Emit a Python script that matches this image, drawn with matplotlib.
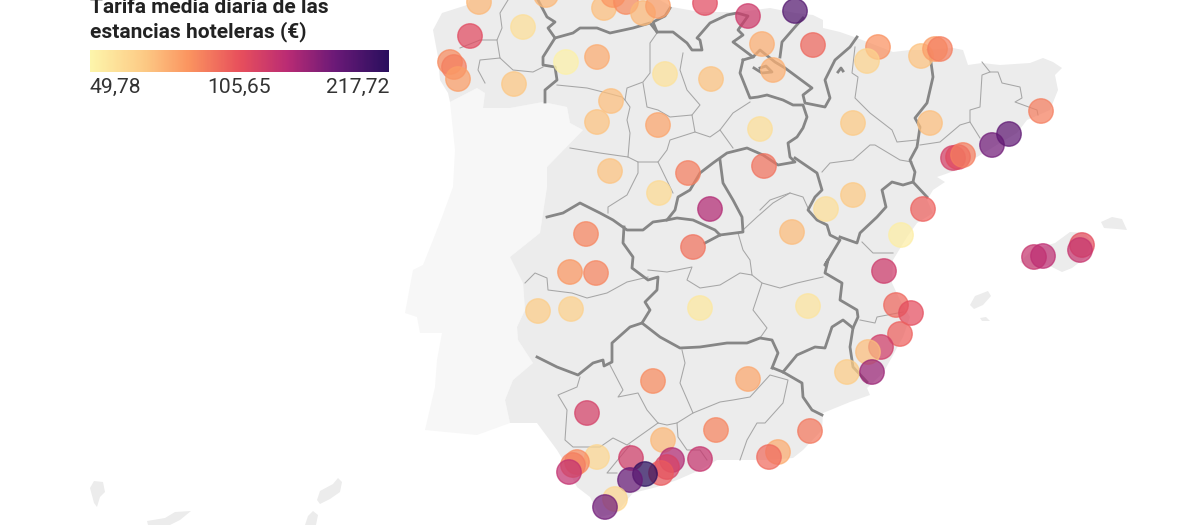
import numpy as np
import matplotlib
matplotlib.use("Agg")
import matplotlib.pyplot as plt
from matplotlib.colors import LinearSegmentedColormap, LogNorm
from matplotlib.patches import Polygon

plt.rcParams['font.family'] = ['Roboto', 'DejaVu Sans']

TITLE = ["Tarifa media diaria de las", "estancias hoteleras (€)"]
SCALE_MIN, SCALE_MID, SCALE_MAX = 49.78, 105.65, 217.72
SCALE_LABELS = ["49,78", "105,65", "217,72"]

point_x = [479,523,470,450,454,458,514,566,597,546,604,613,626,643,658,705,748,795,762,773,
           665,711,611,597,658,760,610,659,688,764,710,693,813,878,867,921,935,940,853,930,
           1041,992,1009,953,958,963,826,853,923,901,792,1034,1043,1082,1080,884,896,911,900,881,
           868,847,872,810,778,769,808,700,586,570,596,538,571,653,748,587,663,716,597,577,
           573,569,631,672,667,661,700,645,630,615,605]
point_y = [2,27,36,62,67,79,84,62,57,-5,8,-5,2,13,6,3,16,11,44,70,
           74,79,101,122,125,129,171,193,173,166,209,247,45,47,61,56,49,49,123,123,
           111,145,134,158,157,155,209,195,209,235,232,257,256,245,250,271,305,313,334,347,
           352,372,372,431,452,457,306,308,234,272,273,311,309,381,379,413,440,430,457,462,
           465,472,458,460,467,473,459,474,480,499,507]
point_value = [70,57,108,84,88,78,66,51,74,70,68,80,84,70,78,108,120,185,73,72,
               56,67,68,67,76,57,67,59,88,92,135,92,96,82,61,67,78,88,65,68,
               88,165,175,116,108,88,57,65,98,52,69,124,130,106,124,120,96,106,98,118,
               68,64,145,90,74,94,55,54,86,80,86,64,62,84,75,116,70,86,60,84,
               88,126,118,135,114,100,124,217,170,60,165]

spain = [(470,0),(660,0),(672,7),(700,12),(740,12),(770,8),(795,13),(813,15),(823,20),(823,28),(840,32),(857,38),(870,43),
         (893,52),(910,50),(923,50),(953,48),(963,50),(968,65),(982,63),(1000,65),(1030,63),(1043,58),(1053,62),(1062,68),
         (1055,75),(1058,90),(1050,110),(1027,120),(1017,133),(1000,143),(977,157),(957,170),(937,177),(945,182),(933,190),
         (927,200),(933,213),(917,223),(907,237),(893,260),(892,283),(900,300),(910,317),(903,337),(892,357),(883,373),
         (867,388),(870,395),(850,402),(823,413),(822,430),(803,450),(793,458),(767,460),(733,460),(717,460),(700,470),
         (677,480),(657,487),(633,493),(627,500),(617,513),(600,517),(590,497),(577,487),(563,460),(557,450),(537,423),
         (510,423),(505,400),(513,380),(533,363),(518,340),(517,327),(525,310),(523,283),(513,263),(510,257),(540,233),
         (543,213),(547,187),(547,167),(583,130),(570,123),(567,107),(543,102),(510,108),(483,108),(485,93),(477,88),
         (450,102),(448,93),(440,80),(438,57),(433,30),(442,13),(467,5)]
portugal = [(450,102),(477,88),(485,93),(483,108),(510,108),(543,102),(567,107),(570,123),(583,130),(547,167),(547,187),
            (543,213),(540,233),(510,257),(513,263),(523,283),(525,310),(517,327),(518,340),(533,363),(513,380),(505,400),
            (510,423),(477,435),(425,430),(435,387),(437,360),(442,333),(420,333),(417,317),(405,313),(413,270),(423,265),
            (433,240),(442,217),(453,187),(455,150)]
islands = [
    [(1020,262),(1032,250),(1055,243),(1070,232),(1085,233),(1092,243),(1085,258),(1072,268),(1062,272),(1048,265),(1030,268)],
    [(1101,222),(1112,217),(1122,219),(1127,230),(1117,229),(1104,228)],
    [(970,305),(975,296),(988,291),(991,296),(983,305),(974,309)],
    [(980,318),(986,317),(990,321),(982,321)],
    [(90,488),(94,481),(103,482),(105,492),(100,497),(97,507),(94,503)],
    [(147,521),(165,518),(175,512),(191,511),(180,520),(170,525),(148,525)],
    [(317,500),(320,491),(333,484),(338,478),(342,482),(340,492),(330,499),(320,504)],
    [(305,525),(308,516),(313,511),(318,515),(316,525)],
]
thick_borders = [
    [(538,0),(547,17),(555,22),(548,28),(555,38),(543,57),(543,65),(555,67),(557,80),(545,90),(545,102)],
    [(555,38),(573,33),(580,28),(597,28),(610,33),(633,28),(650,23),(657,32),(673,32),(687,43),(692,50),(702,50),(700,40),(697,38),(710,23),(727,15),(737,13),(748,16),(738,30),(743,35),(733,42),(753,57),(760,50),(775,62),(785,68),(812,88),(803,95),(805,103),(825,107),(830,98),(825,80),(835,60),(850,47),(857,37)],
    [(657,32),(653,22),(665,16),(670,8)],
    [(780,57),(782,42),(795,27),(803,18)],
    [(743,60),(740,73),(750,98),(758,97),(767,95),(783,100),(793,105),(803,105),(807,117),(803,128),(797,137),(788,143),(790,157),(795,162),(778,165),(763,155),(747,148),(727,153),(713,163),(700,173),(690,190),(678,197),(675,210),(667,220),(653,222),(643,230),(627,230),(613,220),(600,213),(580,203),(563,213),(547,217)],
    [(753,57),(743,60)],
    [(760,68),(766,66),(772,72),(762,73),(754,68)],
    [(838,72),(841,68),(843,71)],
    [(720,160),(723,183),(733,200),(742,217),(743,232),(720,235),(705,243)],
    [(720,235),(715,230),(693,220),(677,218),(667,220)],
    [(624,227),(623,243),(633,257),(632,268),(648,280),(658,277),(657,290),(645,302),(650,310),(642,323)],
    [(537,357),(557,367),(578,375),(593,363),(603,360),(604,366),(612,362),(612,343),(630,327),(642,323),(660,337),(680,348),(700,347),(727,343),(747,343),(760,338),(772,340),(778,353),(772,368)],
    [(773,368),(783,372),(802,383),(803,397),(812,410),(822,415)],
    [(783,372),(797,355),(815,347),(825,348),(832,327),(843,320),(853,328),(850,347),(853,367),(867,382)],
    [(853,328),(858,317),(857,310),(840,300),(842,283),(825,273),(828,260),(825,265),(840,240),(830,235),(827,225),(817,220),(808,210),(815,197),(822,190),(817,173),(795,158)],
    [(840,237),(857,243),(860,233),(877,217),(886,207),(882,190),(892,182),(903,185),(913,182),(927,197)],
    [(913,182),(915,172),(910,160),(917,147),(920,127),(915,118),(927,103),(933,77),(930,55),(928,50)],
]
thin_borders = [
    [(460,48),(480,40),(497,40),(502,28),(500,13),(508,0)],
    [(497,40),(500,58),(480,60),(478,70),(485,83)],
    [(500,58),(513,70),(533,72),(543,67)],
    [(557,85),(587,88),(607,93),(622,97),(625,100),(627,88),(643,82),(650,73),(650,43),(657,33)],
    [(625,100),(630,107),(627,120),(630,133),(628,157),(600,153),(570,148)],
    [(628,157),(638,162),(638,173),(627,195),(608,207),(608,213)],
    [(638,162),(658,162),(667,150),(670,140),(695,132),(692,115),(670,117),(658,110),(647,107),(643,83)],
    [(658,162),(673,193)],
    [(683,53),(680,70),(687,90),(700,105),(692,115)],
    [(695,132),(710,137),(720,130),(733,113),(750,102)],
    [(720,130),(733,148)],
    [(855,47),(852,73),(858,77),(855,98),(870,113),(892,130),(897,142),(917,140)],
    [(920,145),(940,142),(960,125),(970,122),(980,138)],
    [(970,122),(970,110),(980,107),(982,75),(990,72),(982,62)],
    [(990,72),(998,72),(1002,83),(1020,87),(1022,98),(1015,102),(1037,110),(1038,115)],
    [(822,172),(830,163),(853,160),(870,145),(875,145),(900,160),(912,162)],
    [(760,210),(770,200),(790,193),(803,197),(808,208)],
    [(862,242),(873,253),(893,253)],
    [(743,230),(757,217),(773,203),(790,193)],
    [(738,233),(743,250),(750,260),(752,275),(740,273),(720,285),(700,288),(687,280),(692,267),(667,272),(648,270)],
    [(752,275),(762,283),(753,310),(767,328),(760,338)],
    [(762,283),(780,288),(797,283),(823,277)],
    [(525,283),(535,273),(547,278),(548,290),(572,293),(587,298),(607,293),(627,282),(648,277)],
    [(610,365),(623,390),(618,397),(638,393),(647,410),(658,423)],
    [(580,377),(577,387),(558,395),(567,410),(565,440),(573,447),(600,447),(613,438),(627,445),(658,423)],
    [(682,350),(685,363),(680,383),(693,413),(677,423),(667,425),(658,423)],
    [(693,413),(720,402),(733,400),(750,397),(770,375),(788,380),(783,403),(765,423),(757,423),(747,440),(740,460)],
    [(677,423),(678,437),(687,450),(700,450),(707,460)],
    [(630,445),(607,473),(617,473)],
    [(860,320),(875,323),(877,317),(903,312)],
]

cmap = LinearSegmentedColormap.from_list("tarifa", [
    (0.00, "#fdf5ab"), (0.18, "#fdca85"), (0.33, "#fb9460"), (0.50, "#e8505c"),
    (0.66, "#bb2c74"), (0.82, "#6c1a78"), (1.00, "#2a0f5e")])
norm = LogNorm(vmin=SCALE_MIN, vmax=SCALE_MAX)

fig = plt.figure(figsize=(12, 5.25), dpi=100)
ax = fig.add_axes([0, 0, 1, 1])
ax.set_xlim(0, 1200)
ax.set_ylim(525, 0)
ax.axis("off")

ax.add_patch(Polygon(portugal, closed=True, fc="#f7f7f7", ec="none", zorder=1))
ax.add_patch(Polygon(spain, closed=True, fc="#ececec", ec="none", zorder=2))
for isl in islands:
    ax.add_patch(Polygon(isl, closed=True, fc="#ececec", ec="none", zorder=2))
for line in thin_borders:
    xs, ys = zip(*line)
    ax.plot(xs, ys, color="#a6a6a6", lw=0.75, zorder=3, solid_joinstyle="round")
for line in thick_borders:
    xs, ys = zip(*line)
    ax.plot(xs, ys, color="#868686", lw=2.0, zorder=4, solid_joinstyle="round")

ax.scatter(point_x, point_y, c=point_value, cmap=cmap, norm=norm, s=310, alpha=0.72,
           edgecolors="face", linewidths=1.0, zorder=5)

gradient = np.linspace(0, 1, 300).reshape(1, -1)
ax.imshow(gradient, cmap=cmap, extent=(90, 389, 72, 50), aspect="auto", zorder=6)
ax.set_xlim(0, 1200)
ax.set_ylim(525, 0)

ax.text(90, 13, TITLE[0], fontsize=15, fontweight="bold", color="#222222", va="baseline", ha="left", zorder=7)
ax.text(90, 37, TITLE[1], fontsize=15, fontweight="bold", color="#222222", va="baseline", ha="left", zorder=7)
ax.text(90, 93, SCALE_LABELS[0], fontsize=15.2, color="#333333", va="baseline", ha="left", zorder=7)
ax.text(239.5, 93, SCALE_LABELS[1], fontsize=15.2, color="#333333", va="baseline", ha="center", zorder=7)
ax.text(389, 93, SCALE_LABELS[2], fontsize=15.2, color="#333333", va="baseline", ha="right", zorder=7)

fig.savefig("out.png", dpi=100)
